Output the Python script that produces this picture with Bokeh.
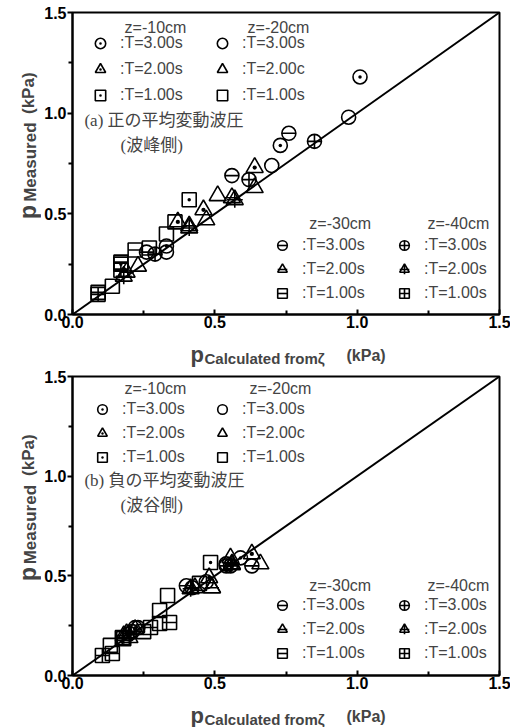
from bokeh.plotting import figure
from bokeh.models import (Range1d, FixedTicker, PrintfTickFormatter, Legend,
                          LegendItem, Label, ColumnDataSource)
from bokeh.layouts import column, row
from bokeh.embed import file_html
from bokeh.resources import INLINE

# ---------------- data ----------------
LINE_X = [0.0, 1.5]
LINE_Y = [0.0, 1.5]

DEPTHS = ["z=-10cm", "z=-20cm", "z=-30cm", "z=-40cm"]
PERIOD_LABELS_Z10 = [":T=3.00s", ":T=2.00s", ":T=1.00s"]
PERIOD_LABELS_Z20 = [":T=3.00s", ":T=2.00c", ":T=1.00s"]
PERIOD_LABELS_Z30 = [":T=3.00s", ":T=2.00s", ":T=1.00s"]
PERIOD_LABELS_Z40 = [":T=3.00s", ":T=2.00s", ":T=1.00s"]

# panel (a) positive mean fluctuating pressure
A_Z10_T3_X = [1.01, 0.73, 0.33]
A_Z10_T3_Y = [1.18, 0.84, 0.34]
A_Z20_T3_X = [0.97, 0.70, 0.33]
A_Z20_T3_Y = [0.98, 0.74, 0.31]
A_Z30_T3_X = [0.76, 0.56, 0.26]
A_Z30_T3_Y = [0.90, 0.69, 0.31]
A_Z40_T3_X = [0.85, 0.62, 0.29]
A_Z40_T3_Y = [0.86, 0.67, 0.30]
A_Z10_T2_X = [0.64, 0.46, 0.37]
A_Z10_T2_Y = [0.73, 0.52, 0.46]
A_Z20_T2_X = [0.64, 0.51, 0.47, 0.23]
A_Z20_T2_Y = [0.63, 0.59, 0.47, 0.24]
A_Z30_T2_X = [0.56, 0.41, 0.19]
A_Z30_T2_Y = [0.58, 0.44, 0.21]
A_Z40_T2_X = [0.57, 0.41, 0.18]
A_Z40_T2_Y = [0.57, 0.43, 0.19]
A_Z10_T1_X = [0.41, 0.17]
A_Z10_T1_Y = [0.57, 0.25]
A_Z20_T1_X = [0.36, 0.33, 0.27, 0.14]
A_Z20_T1_Y = [0.46, 0.40, 0.33, 0.14]
A_Z30_T1_X = [0.22, 0.17, 0.09]
A_Z30_T1_Y = [0.32, 0.26, 0.11]
A_Z40_T1_X = [0.17, 0.09]
A_Z40_T1_Y = [0.22, 0.10]

# panel (b) negative mean fluctuating pressure
B_Z10_T3_X = [0.59, 0.22]
B_Z10_T3_Y = [0.59, 0.24]
B_Z20_T3_X = [0.47, 0.23, 0.54]
B_Z20_T3_Y = [0.47, 0.24, 0.56]
B_Z30_T3_X = [0.63, 0.54, 0.40, 0.21]
B_Z30_T3_Y = [0.55, 0.55, 0.45, 0.22]
B_Z40_T3_X = [0.555, 0.42, 0.20]
B_Z40_T3_Y = [0.55, 0.44, 0.21]
B_Z10_T2_X = [0.63, 0.48, 0.22]
B_Z10_T2_Y = [0.61, 0.49, 0.23]
B_Z20_T2_X = [0.555, 0.66, 0.49, 0.43, 0.19]
B_Z20_T2_Y = [0.59, 0.56, 0.44, 0.44, 0.21]
B_Z30_T2_X = [0.56, 0.49, 0.20]
B_Z30_T2_Y = [0.555, 0.44, 0.19]
B_Z40_T2_X = [0.56, 0.415, 0.18]
B_Z40_T2_Y = [0.56, 0.435, 0.20]
B_Z10_T1_X = [0.485, 0.25]
B_Z10_T1_Y = [0.567, 0.22]
B_Z20_T1_X = [0.334, 0.306, 0.446, 0.306, 0.133]
B_Z20_T1_Y = [0.401, 0.326, 0.462, 0.261, 0.151]
B_Z30_T1_X = [0.341, 0.274, 0.14, 0.18]
B_Z30_T1_Y = [0.266, 0.241, 0.11, 0.185]
B_Z40_T1_X = [0.105, 0.175]
B_Z40_T1_Y = [0.10, 0.19]

TICKS = [0.0, 0.5, 1.0, 1.5]
MINOR_TICKS = [0.25, 0.75, 1.25]

# ---------------- styles ----------------
MARKERS = {
    ("z10", "T3"): ["circle_dot"], ("z10", "T2"): ["triangle_dot"], ("z10", "T1"): ["square_dot"],
    ("z20", "T3"): ["circle"], ("z20", "T2"): ["triangle"], ("z20", "T1"): ["square"],
    ("z30", "T3"): ["circle", "dash"], ("z30", "T2"): ["triangle", "dash"], ("z30", "T1"): ["square", "dash"],
    ("z40", "T3"): ["circle_cross"], ("z40", "T2"): ["triangle", "cross"], ("z40", "T1"): ["square_cross"],
}
SIZES = {"circle": 14, "circle_dot": 14, "circle_cross": 14, "triangle": 17,
         "triangle_dot": 17, "square": 14, "square_dot": 14, "square_cross": 14,
         "dash": 14, "cross": 16}

SANS = "Liberation Sans"
JP = "Liberation Serif, Noto Sans CJK JP"
ROT = 1.5707963
YT_W = 41          # width of the y-title strip
LEFT_BORDER = 29   # 41 + 29 = 70 -> frame left edge


def build(series, cfg):
    p = figure(frame_width=427, frame_height=cfg["fh"], min_border_left=LEFT_BORDER,
               min_border_right=13, min_border_top=cfg["bt"], min_border_bottom=19,
               x_range=Range1d(0, 1.5), y_range=Range1d(0, 1.5),
               output_backend="svg", toolbar_location=None)
    p.grid.visible = False
    p.outline_line_color = "black"
    p.outline_line_width = 2
    for ax in (p.xaxis[0], p.yaxis[0]):
        ax.ticker = FixedTicker(ticks=TICKS, minor_ticks=MINOR_TICKS)
        ax.formatter = PrintfTickFormatter(format="%.1f")
        ax.axis_line_width = 2
        ax.major_tick_line_width = 2
        ax.minor_tick_line_width = 2
        ax.major_label_text_font = SANS
        ax.major_label_text_font_style = "bold"
        ax.major_label_text_font_size = "16px"
        ax.major_label_text_color = "black"
    p.xaxis.major_tick_in = 5
    p.xaxis.major_tick_out = 0
    p.xaxis.minor_tick_in = 4
    p.xaxis.minor_tick_out = 0
    p.xaxis.major_label_standoff = 1
    p.yaxis.major_tick_in = 0
    p.yaxis.major_tick_out = 5
    p.yaxis.minor_tick_in = 0
    p.yaxis.minor_tick_out = 4
    p.yaxis.major_label_standoff = 1

    p.line(LINE_X, LINE_Y, line_color="black", line_width=2)

    renderers = {}
    for key, (xs, ys) in series.items():
        src = ColumnDataSource(data=dict(x=xs, y=ys))
        rs = []
        for m in MARKERS[key]:
            rs.append(p.scatter("x", "y", source=src, marker=m, size=SIZES[m],
                                line_color="black", line_width=1.6, fill_color=None))
        renderers[key] = rs

    groups = [("z10", PERIOD_LABELS_Z10), ("z20", PERIOD_LABELS_Z20),
              ("z30", PERIOD_LABELS_Z30), ("z40", PERIOD_LABELS_Z40)]
    for gi, (z, labels) in enumerate(groups):
        items = [LegendItem(label=lab, renderers=renderers[(z, t)])
                 for lab, t in zip(labels, ["T3", "T2", "T1"])]
        leg = Legend(items=items, location=cfg["leg_loc"][gi], orientation="vertical",
                     glyph_width=30, glyph_height=cfg["leg_gh"][gi], spacing=0,
                     padding=0, margin=0, border_line_color=None,
                     background_fill_alpha=0, label_text_font=SANS,
                     label_text_font_size="16px", label_standoff=5,
                     label_height=18)
        p.add_layout(leg)
        hx, hy = cfg["head"][gi]
        p.add_layout(Label(x=hx, y=hy, text=DEPTHS[gi], text_font=SANS,
                           text_font_size="16px", text_baseline="middle"))

    (x1, y1), (x2, y2) = cfg["note_pos"]
    p.add_layout(Label(x=x1, y=y1, text=cfg["note1"], text_font=JP,
                       text_font_size="17px", text_baseline="middle"))
    p.add_layout(Label(x=x2, y=y2, text=cfg["note2"], text_font=JP,
                       text_font_size="17px", text_baseline="middle"))
    return p


def ytitle_fig(h, pos):
    f = figure(width=YT_W, height=h, min_border=0, x_range=Range1d(0, YT_W),
               y_range=Range1d(0, h), x_axis_type=None, y_axis_type=None,
               output_backend="svg", toolbar_location=None, outline_line_color=None)
    f.grid.visible = False
    (px, py), (mx, my), (kx, ky) = pos
    f.add_layout(Label(x=px, y=py, text="p", text_font=SANS, text_font_style="bold",
                       text_font_size="23px", text_align="center",
                       text_baseline="alphabetic", angle=ROT))
    f.add_layout(Label(x=mx, y=my, text="Measured", text_font=SANS, text_font_style="bold",
                       text_font_size="17px", text_align="center",
                       text_baseline="alphabetic", angle=ROT))
    f.add_layout(Label(x=kx, y=ky, text="(kPa)", text_font=SANS, text_font_style="bold",
                       text_font_size="17px", text_align="center",
                       text_baseline="alphabetic", angle=ROT))
    return f


def xtitle_fig(h, pos):
    f = figure(width=510, height=h, min_border=0, x_range=Range1d(0, 510),
               y_range=Range1d(0, h), x_axis_type=None, y_axis_type=None,
               output_backend="svg", toolbar_location=None, outline_line_color=None)
    f.grid.visible = False
    (px, py), (sx, sy), (kx, ky) = pos
    f.add_layout(Label(x=px, y=py, text="p", text_font=SANS, text_font_style="bold",
                       text_font_size="22px", text_baseline="alphabetic"))
    f.add_layout(Label(x=sx, y=sy, text="Calculated from\u03b6", text_font=SANS,
                       text_font_style="bold", text_font_size="15px",
                       text_baseline="alphabetic"))
    f.add_layout(Label(x=kx, y=ky, text="(kPa)", text_font=SANS, text_font_style="bold",
                       text_font_size="16px", text_baseline="alphabetic"))
    return f


series_a = {
    ("z10", "T3"): (A_Z10_T3_X, A_Z10_T3_Y), ("z20", "T3"): (A_Z20_T3_X, A_Z20_T3_Y),
    ("z30", "T3"): (A_Z30_T3_X, A_Z30_T3_Y), ("z40", "T3"): (A_Z40_T3_X, A_Z40_T3_Y),
    ("z10", "T2"): (A_Z10_T2_X, A_Z10_T2_Y), ("z20", "T2"): (A_Z20_T2_X, A_Z20_T2_Y),
    ("z30", "T2"): (A_Z30_T2_X, A_Z30_T2_Y), ("z40", "T2"): (A_Z40_T2_X, A_Z40_T2_Y),
    ("z10", "T1"): (A_Z10_T1_X, A_Z10_T1_Y), ("z20", "T1"): (A_Z20_T1_X, A_Z20_T1_Y),
    ("z30", "T1"): (A_Z30_T1_X, A_Z30_T1_Y), ("z40", "T1"): (A_Z40_T1_X, A_Z40_T1_Y),
}
series_b = {
    ("z10", "T3"): (B_Z10_T3_X, B_Z10_T3_Y), ("z20", "T3"): (B_Z20_T3_X, B_Z20_T3_Y),
    ("z30", "T3"): (B_Z30_T3_X, B_Z30_T3_Y), ("z40", "T3"): (B_Z40_T3_X, B_Z40_T3_Y),
    ("z10", "T2"): (B_Z10_T2_X, B_Z10_T2_Y), ("z20", "T2"): (B_Z20_T2_X, B_Z20_T2_Y),
    ("z30", "T2"): (B_Z30_T2_X, B_Z30_T2_Y), ("z40", "T2"): (B_Z40_T2_X, B_Z40_T2_Y),
    ("z10", "T1"): (B_Z10_T1_X, B_Z10_T1_Y), ("z20", "T1"): (B_Z20_T1_X, B_Z20_T1_Y),
    ("z30", "T1"): (B_Z30_T1_X, B_Z30_T1_Y), ("z40", "T1"): (B_Z40_T1_X, B_Z40_T1_Y),
}

cfg_a = dict(fh=302, bt=12,
             leg_loc=[(13, 206), (135, 206), (195, 9), (317, 9)],
             leg_gh=[26, 26, 24, 24],
             head=[(0.183, 1.426), (0.615, 1.426), (0.832, 0.452), (1.247, 0.452)],
             note1="(a) 正の平均変動波圧", note2="(波峰側)",
             note_pos=[(0.042, 0.964), (0.169, 0.84)])
cfg_b = dict(fh=299, bt=9,
             leg_loc=[(15, 206), (135, 206), (195, 10), (317, 10)],
             leg_gh=[24, 24, 24, 24],
             head=[(0.183, 1.44), (0.622, 1.44), (0.832, 0.452), (1.247, 0.452)],
             note1="(b) 負の平均変動波圧", note2="(波谷側)",
             note_pos=[(0.042, 0.978), (0.169, 0.853)])

pa = build(series_a, cfg_a)   # height 333
pb = build(series_b, cfg_b)   # height 327
ya = ytitle_fig(333, [(27, 113), (30, 168), (28, 244)])
yb = ytitle_fig(327, [(27, 111), (30, 165), (28, 241)])
xa = xtitle_fig(34, [(190, 13), (204, 9), (346, 12)])
xb = xtitle_fig(33, [(190, 12), (204, 8), (346, 11)])

layout = column(row(ya, pa, spacing=0), xa, row(yb, pb, spacing=0), xb, spacing=0)
open("out.html", "w").write(file_html(layout, INLINE))
